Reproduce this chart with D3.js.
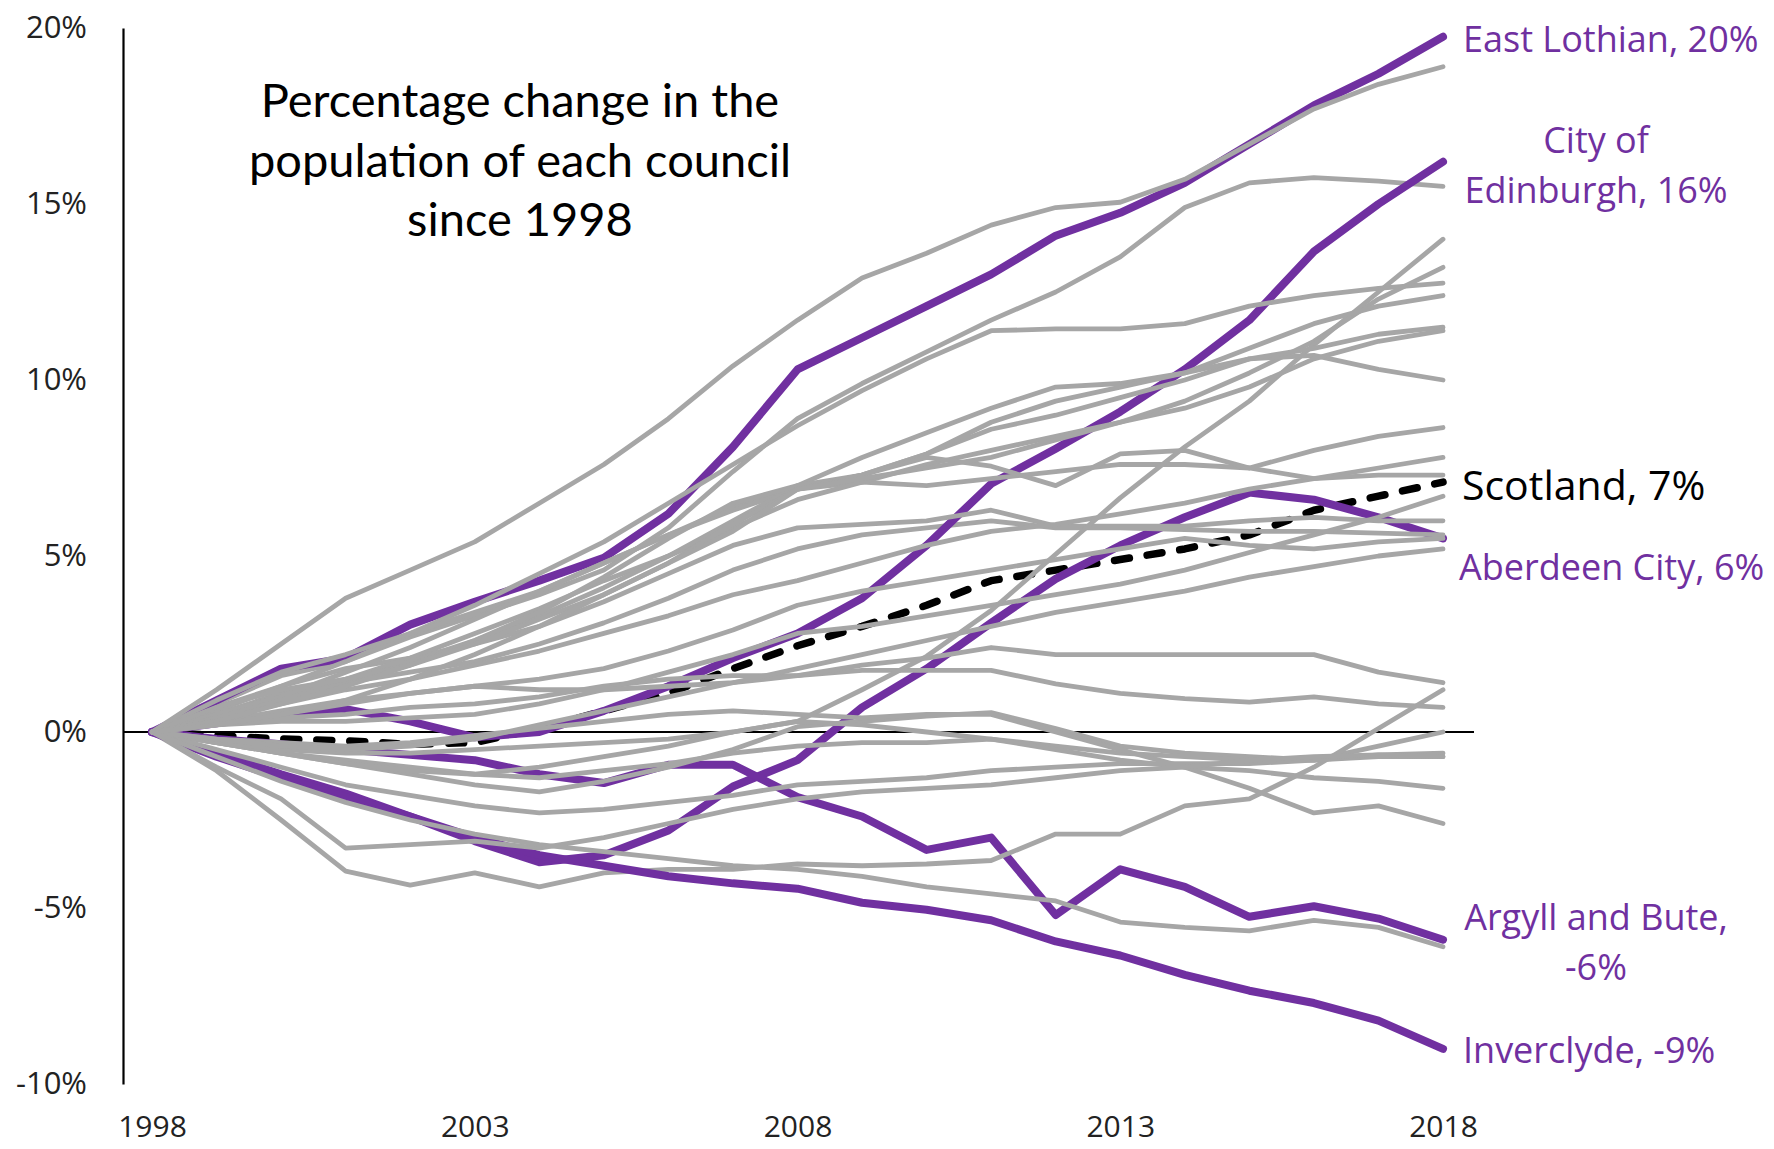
<!DOCTYPE html>
<html><head><meta charset="utf-8">
<script src="https://cdn.jsdelivr.net/npm/d3@7"></script>
<style>html,body{margin:0;padding:0;background:#fff} svg{display:block}</style>
</head><body>
<svg id="chart" width="1774" height="1149"></svg>
<script>
// ---------- DATA ----------
const years = [1998,1999,2000,2001,2002,2003,2004,2005,2006,2007,2008,2009,2010,2011,2012,2013,2014,2015,2016,2017,2018];
const xTickYears = [1998, 2003, 2008, 2013, 2018];
const yTickValues = [-10, -5, 0, 5, 10, 15, 20];
const titleLines = ["Percentage change in the", "population of each council", "since 1998"];

const scotland     = [0,-0.1,-0.2,-0.25,-0.35,-0.3,0.1,0.6,1.1,1.8,2.45,3.0,3.6,4.3,4.6,4.9,5.2,5.6,6.3,6.7,7.1];
const aberdeenCity = [0,-0.6,-1.2,-1.75,-2.4,-3.1,-3.7,-3.5,-2.8,-1.55,-0.8,0.7,1.8,3.1,4.35,5.3,6.1,6.8,6.6,6.1,5.5];
const argyllBute   = [0,-0.2,-0.35,-0.5,-0.65,-0.8,-1.2,-1.45,-0.93,-0.93,-1.85,-2.4,-3.35,-3.0,-5.2,-3.9,-4.4,-5.25,-4.95,-5.3,-5.9];
const edinburgh    = [0,0.25,0.5,0.65,0.3,-0.15,0.0,0.6,1.3,2.1,2.8,3.8,5.3,7.05,8.05,9.1,10.3,11.7,13.65,15.0,16.2];
const eastLothian  = [0,0.9,1.8,2.1,3.05,3.7,4.3,4.95,6.2,8.1,10.3,11.2,12.1,13.0,14.1,14.75,15.6,16.7,17.8,18.7,19.75];
const inverclyde   = [0,-0.7,-1.3,-1.85,-2.4,-3.0,-3.5,-3.8,-4.1,-4.3,-4.45,-4.85,-5.05,-5.35,-5.95,-6.35,-6.9,-7.35,-7.7,-8.2,-9.0];

// other councils (grey), in drawing order
const greyBeforeArgyll = [
  [0,0.8,1.6,2.0,2.7,3.3,3.9,4.6,5.8,7.4,8.9,9.9,10.8,11.7,12.5,13.5,14.9,15.6,15.75,15.65,15.5],
  [0,0.5,1.1,1.4,1.7,2.0,2.5,3.1,3.8,4.6,5.2,5.6,5.8,6.0,5.8,5.8,5.75,5.7,5.7,5.65,5.6]
];
const greyBeforeEastLothian = [
  [0,0.7,1.3,1.8,2.1,2.5,3.0,3.7,4.5,5.3,5.8,5.9,6.0,6.3,5.85,5.85,5.85,6.0,6.1,6.0,6.0],
  [0,0.2,0.4,0.5,0.7,0.8,1.0,1.3,1.5,1.6,1.6,1.75,1.75,1.75,1.37,1.1,0.95,0.85,1.0,0.8,0.7],
  [0,-0.3,-0.6,-0.9,-1.2,-1.5,-1.7,-1.4,-1.0,-0.5,0.15,0.3,0.45,0.55,0.1,-0.4,-0.6,-0.7,-0.8,-0.4,0.0],
  [0,-0.3,-0.6,-0.8,-1.0,-1.2,-1.3,-1.1,-0.9,-0.6,-0.4,-0.3,-0.3,-0.2,-0.4,-0.6,-0.7,-0.8,-0.8,-0.65,-0.6],
  [0,-1.1,-2.5,-3.95,-4.35,-4.0,-4.4,-4.0,-3.9,-3.9,-3.75,-3.8,-3.75,-3.65,-2.9,-2.9,-2.1,-1.9,-1.0,0.1,1.2]
];
const greyBeforeInverclyde = [
  [0,0.4,0.8,1.2,1.5,1.9,2.3,2.8,3.3,3.9,4.3,4.8,5.3,5.7,5.9,6.2,6.5,6.9,7.2,7.5,7.8],
  [0,0.6,1.3,2.0,2.8,3.6,4.5,5.4,6.5,7.6,8.7,9.7,10.6,11.4,11.45,11.45,11.6,12.1,12.4,12.6,12.75],
  [0,0.2,0.3,0.3,0.4,0.5,0.8,1.2,1.7,2.2,2.8,3.0,3.3,3.6,3.9,4.2,4.6,5.1,5.6,6.1,6.7],
  [0,0.9,1.7,2.2,2.8,3.4,4.0,4.8,5.6,6.4,6.9,7.1,7.0,7.2,7.4,7.6,7.6,7.5,7.2,7.3,7.3],
  [0,0.5,1.0,1.5,2.1,2.8,3.5,4.3,5.0,5.8,6.6,7.1,7.6,8.0,8.4,8.8,9.4,10.2,11.1,12.3,13.2]
];
const greyAfterInverclyde = [
  [0,-0.3,-0.6,-0.9,-1.1,-1.2,-1.0,-0.7,-0.4,0.0,0.3,1.2,2.15,3.45,5.05,6.65,8.1,9.4,11.0,12.5,14.0],
  [0,0.5,1.0,1.7,2.4,3.2,4.0,4.8,5.6,6.3,6.9,7.3,7.9,8.6,9.0,9.5,10.0,10.6,10.7,10.3,10.0],
  [0,-0.2,-0.3,-0.4,-0.3,-0.1,0.1,0.3,0.5,0.6,0.5,0.4,0.5,0.5,0.0,-0.5,-1.0,-1.6,-2.3,-2.1,-2.6],
  [0,-0.3,-0.5,-0.6,-0.6,-0.5,-0.4,-0.3,-0.2,0.0,0.3,0.2,0.0,-0.2,-0.5,-0.8,-1.0,-1.1,-1.3,-1.4,-1.6],
  [0,0.3,0.5,0.8,1.1,1.3,1.5,1.8,2.3,2.9,3.6,4.0,4.3,4.6,4.9,5.2,5.5,5.3,5.2,5.4,5.5],
  [0,0.4,0.9,1.4,2.0,2.6,3.3,4.1,5.0,6.0,7.0,7.8,8.5,9.2,9.8,9.9,10.2,10.9,11.6,12.1,12.4],
  [0,0.7,1.2,1.5,1.9,2.6,3.4,4.4,5.5,6.5,7.0,7.3,7.9,8.8,9.4,9.8,10.2,10.6,10.9,11.3,11.5],
  [0,0.3,0.6,0.9,1.1,1.3,1.2,1.2,1.3,1.4,1.6,1.9,2.1,2.4,2.2,2.2,2.2,2.2,2.2,1.7,1.4],
  [0,0.3,0.8,1.3,1.9,2.5,3.2,3.9,4.8,5.9,6.9,7.3,7.8,7.55,7.0,7.9,8.0,7.5,8.0,8.4,8.65],
  [0,-0.5,-1.0,-1.5,-1.8,-2.1,-2.3,-2.2,-2.0,-1.8,-1.5,-1.4,-1.3,-1.1,-1.0,-0.9,-0.9,-0.9,-0.8,-0.7,-0.7],
  [0,-1.0,-1.9,-3.3,-3.2,-3.1,-3.3,-3.0,-2.6,-2.2,-1.9,-1.7,-1.6,-1.5,-1.3,-1.1,-1.0,-0.8,-0.7,-0.65,-0.7],
  [0,-0.2,-0.4,-0.5,-0.4,-0.2,0.2,0.6,1.0,1.4,1.8,2.2,2.6,3.0,3.4,3.7,4.0,4.4,4.7,5.0,5.2],
  [0,0.2,0.5,0.9,1.5,2.2,3.0,3.9,4.8,5.7,6.9,7.2,7.5,7.8,8.3,8.8,9.2,9.8,10.6,11.1,11.4],
  [0,-0.7,-1.4,-2.0,-2.5,-2.9,-3.2,-3.4,-3.6,-3.8,-3.9,-4.1,-4.4,-4.6,-4.8,-5.4,-5.55,-5.65,-5.35,-5.55,-6.1],
  [0,1.2,2.5,3.8,4.6,5.4,6.5,7.6,8.9,10.4,11.7,12.9,13.6,14.4,14.9,15.05,15.7,16.7,17.7,18.4,18.9]
];

const labelTexts = [
  {lines: ["East Lothian, 20%"], colour: "purple"},
  {lines: ["City of", "Edinburgh, 16%"], colour: "purple"},
  {lines: ["Scotland, 7%"], colour: "black"},
  {lines: ["Aberdeen City, 6%"], colour: "purple"},
  {lines: ["Argyll and Bute,", "-6%"], colour: "purple"},
  {lines: ["Inverclyde, -9%"], colour: "purple"}
];

// ---------- STYLE / LAYOUT ----------
const PURPLE = "#7030A0", GREY = "#A6A6A6", INK = "#222";
const svg = d3.select("#chart");
const x = d3.scaleLinear().domain([1998, 2018]).range([152, 1443]);
const y = d3.scaleLinear().domain([-10, 20]).range([1084, 28]);
const line = d3.line().x((d, i) => x(years[i])).y(d => y(d));

// axes
const yAxis = d3.axisLeft(y).tickValues(yTickValues).tickSize(0).tickPadding(36)
  .tickFormat(d => d + "%");
const gy = svg.append("g").attr("transform", "translate(123,0)").call(yAxis);
gy.select(".domain").attr("stroke", "#000").attr("stroke-width", 2.2);
gy.selectAll("text").attr("font-family", "'Open Sans', sans-serif").attr("font-size", 31).attr("fill", INK);

const xAxis = d3.axisBottom(x).tickValues(xTickYears).tickSize(0).tickPadding(0).tickFormat(d3.format("d"));
const gx = svg.append("g").attr("transform", "translate(0,1137)").call(xAxis);
gx.select(".domain").remove();
gx.selectAll("text").attr("font-family", "'Open Sans', sans-serif").attr("font-size", 30).attr("fill", INK).attr("dy", 0);

// zero line
svg.append("line").attr("x1", 123).attr("x2", 1474).attr("y1", y(0)).attr("y2", y(0))
  .attr("stroke", "#000").attr("stroke-width", 2.2);

// series
const g = svg.append("g").attr("fill", "none").attr("stroke-linejoin", "round").attr("stroke-linecap", "round");
function greyLines(arr) {
  arr.forEach(s => g.append("path").attr("d", line(s)).attr("stroke", GREY).attr("stroke-width", 4.8));
}
function purpleLine(s) {
  g.append("path").attr("d", line(s)).attr("stroke", PURPLE).attr("stroke-width", 8);
}
g.append("path").attr("d", line(scotland)).attr("stroke", "#000").attr("stroke-width", 7.5)
  .attr("stroke-dasharray", "15 18").attr("stroke-linecap", "round");
purpleLine(aberdeenCity);
greyLines(greyBeforeArgyll);
purpleLine(argyllBute);
purpleLine(edinburgh);
greyLines(greyBeforeEastLothian);
purpleLine(eastLothian);
greyLines(greyBeforeInverclyde);
purpleLine(inverclyde);
greyLines(greyAfterInverclyde);

// title
const title = svg.append("text").attr("text-anchor", "middle")
  .attr("font-family", "Lato, sans-serif").attr("font-size", 47).attr("fill", "#000");
titleLines.forEach((t, i) => title.append("tspan").attr("x", 520).attr("y", 117 + i * 59.5).text(t));

// end labels
const labelLayout = [
  {x: 1463, anchor: "start", base: [52], size: 36},
  {x: 1596, anchor: "middle", base: [153, 203], size: 36},
  {x: 1462, anchor: "start", base: [500], size: 41},
  {x: 1459, anchor: "start", base: [580], size: 36},
  {x: 1596, anchor: "middle", base: [930, 980], size: 36},
  {x: 1463, anchor: "start", base: [1063], size: 36}
];
labelTexts.forEach((lab, i) => {
  const L = labelLayout[i];
  const t = svg.append("text").attr("text-anchor", L.anchor)
    .attr("font-family", "'Open Sans', sans-serif").attr("font-size", L.size)
    .attr("fill", lab.colour === "purple" ? PURPLE : "#000");
  lab.lines.forEach((s, j) => t.append("tspan").attr("x", L.x).attr("y", L.base[j]).text(s));
});
</script>
</body></html>
